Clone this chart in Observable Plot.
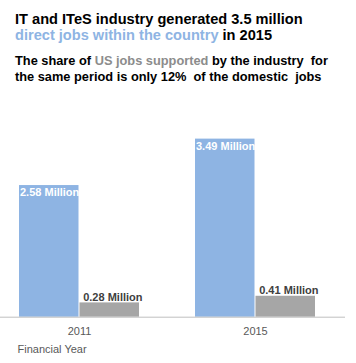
<!DOCTYPE html>
<html>
<head>
<meta charset="utf-8">
<script src="https://cdn.jsdelivr.net/npm/d3@7"></script>
<script src="https://cdn.jsdelivr.net/npm/@observablehq/plot@0.6"></script>
<style>
  html, body { margin: 0; padding: 0; background: #fff; }
  body { width: 356px; height: 363px; overflow: hidden; font-family: Arial, "Liberation Sans", sans-serif; }
  #head { height: 90px; box-sizing: border-box; padding: 11px 0 0 15px; white-space: nowrap; }
  .t1 { font-size: 14.6px; font-weight: bold; line-height: 16px; color: #000; }
  .t2 { font-size: 12.8px; font-weight: bold; line-height: 15.5px; color: #000; margin-top: 10px; }
  .blue { color: #8EB4E3; }
  .grey { color: #8C8C8C; font-weight: bold; }
  svg { display: block; }
</style>
</head>
<body>
<div id="head">
  <div class="t1">IT and ITeS industry generated 3.5 million<br><span class="blue">direct jobs within the country</span> in 2015</div>
  <div class="t2">The share of <span class="grey">US jobs supported</span> by the industry&nbsp; for<br>the same period is only 12%&nbsp; of the domestic&nbsp; jobs</div>
</div>
<div id="chart"></div>
<script>
const years = ["2011", "2015"];
const domesticJobs = [2.58, 3.49];
const usJobs = [0.28, 0.41];
const domesticLabels = ["2.58 Million", "3.49 Million"];
const usLabels = ["0.28 Million", "0.41 Million"];
const xAxisTitle = "Financial Year";

const data = years.map((y, i) => ({year: y, domestic: domesticJobs[i], us: usJobs[i], dl: domesticLabels[i], ul: usLabels[i]}));

const bw = 121;
const chart = Plot.plot({
  width: 356,
  height: 273,
  marginLeft: 0,
  marginRight: 11,
  marginTop: 43,
  marginBottom: 46.3,
  style: {fontFamily: "Arial, 'Liberation Sans', sans-serif", background: "#fff"},
  x: {type: "band", domain: years, paddingInner: 0.316, paddingOuter: 0.1328, align: 0.394, label: null},
  y: {domain: [0, 3.6], axis: null},
  marks: [
    Plot.barY(data, {x: "year", y: "domestic", fill: "#8EB4E3", insetRight: bw / 2}),
    Plot.barY(data, {x: "year", y: "us", fill: "#A6A6A6", insetLeft: bw / 2}),
    Plot.ruleY([0], {stroke: "#BFBFBF", strokeWidth: 1}),
    Plot.axisX({tickSize: 0, tickPadding: 9.5, fontSize: 11, color: "#595959", label: null}),
    Plot.text(data, {x: "year", y: "domestic", text: "dl", dx: -bw / 2 + 1, dy: 3, textAnchor: "start", lineAnchor: "top", fill: "#fff", fontSize: 11, fontWeight: "bold"}),
    Plot.text(data, {x: "year", y: "us", text: "ul", dx: 3.7, dy: -2, textAnchor: "start", lineAnchor: "bottom", fill: "#404040", fontSize: 11, fontWeight: "bold"}),
    Plot.text([xAxisTitle], {frameAnchor: "bottom-left", dx: 17, dy: 32, textAnchor: "start", lineAnchor: "middle", fill: "#595959", fontSize: 11})
  ]
});
document.getElementById("chart").appendChild(chart);
</script>
</body>
</html>
